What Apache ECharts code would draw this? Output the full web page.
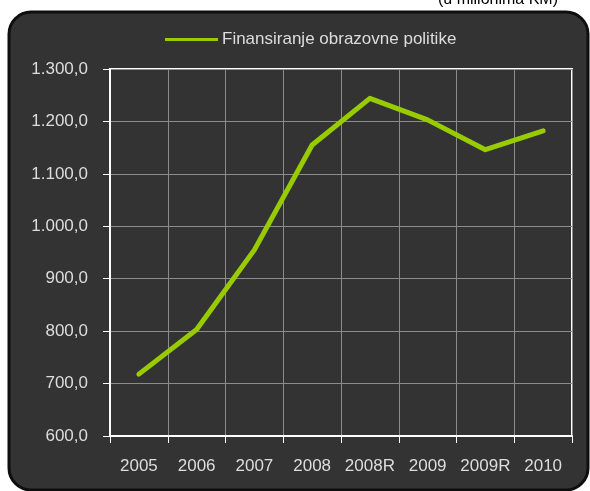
<!DOCTYPE html>
<html>
<head>
<meta charset="utf-8">
<script src="https://cdn.jsdelivr.net/npm/echarts@6/dist/echarts.min.js"></script>
<style>
  html, body { margin: 0; padding: 0; background: #ffffff; }
  #chart { width: 590px; height: 491px; }
</style>
</head>
<body>
<div id="chart"></div>
<script>
// Education policy funding, in millions of KM
const years = ['2005', '2006', '2007', '2008', '2008R', '2009', '2009R', '2010'];
const funding = [718, 803, 955, 1155, 1244, 1203, 1146, 1182];
const seriesName = 'Finansiranje obrazovne politike';
const unitNote = '(u milionima KM)';

const fmt = v => {
  const s = Math.round(v).toString();
  const withDots = s.replace(/\B(?=(\d{3})+(?!\d))/g, '.');
  return withDots + ',0';
};

const chart = echarts.init(document.getElementById('chart'), null, { renderer: 'canvas' });
const labelFont = 'Liberation Sans, Arial, sans-serif';

chart.setOption({
  backgroundColor: '#ffffff',
  animation: false,
  graphic: [{
    type: 'rect',
    z: -10,
    silent: true,
    shape: { x: 9, y: 12, width: 579, height: 478, r: 22 },
    style: { fill: '#333333', stroke: '#0e0e0e', lineWidth: 3 }
  }],
  title: {
    text: unitNote,
    right: 32,
    top: -8,
    padding: 0,
    textStyle: { color: '#000000', fontSize: 16, fontWeight: 'normal', fontFamily: labelFont }
  },
  legend: {
    data: [seriesName],
    left: 165,
    top: 31,
    padding: 0,
    icon: 'rect',
    itemWidth: 53,
    itemHeight: 3,
    itemGap: 4,
    textStyle: { color: '#dddddd', fontSize: 17, fontFamily: labelFont, padding: [0, 0, 0, -1] }
  },
  grid: {
    left: 110, right: 18, top: 69, bottom: 55,
    show: true,
    borderColor: '#ffffff',
    borderWidth: 2,
    containLabel: false
  },
  xAxis: {
    type: 'category',
    data: years,
    boundaryGap: true,
    axisLine: { show: true, lineStyle: { color: '#ffffff', width: 2 } },
    axisTick: { show: true, interval: 0, length: 7, lineStyle: { color: '#ffffff', width: 1 } },
    splitLine: { show: true, interval: 0, lineStyle: { color: '#8c8c8c', width: 1 } },
    axisLabel: { color: '#dddddd', fontSize: 17, fontFamily: labelFont, margin: 22, interval: 0, hideOverlap: false }
  },
  yAxis: {
    type: 'value',
    min: 600,
    max: 1300,
    interval: 100,
    axisLine: { show: true, lineStyle: { color: '#ffffff', width: 2 } },
    axisTick: { show: true, length: 7, lineStyle: { color: '#ffffff', width: 1 } },
    splitLine: { show: true, lineStyle: { color: '#8c8c8c', width: 1 } },
    axisLabel: { color: '#dddddd', fontSize: 17, fontFamily: labelFont, margin: 22, formatter: fmt }
  },
  series: [{
    name: seriesName,
    type: 'line',
    data: funding,
    showSymbol: false,
    symbol: 'none',
    lineStyle: { color: '#99cc00', width: 5, cap: 'round', join: 'round' },
    itemStyle: { color: '#99cc00' }
  }]
});
</script>
</body>
</html>
